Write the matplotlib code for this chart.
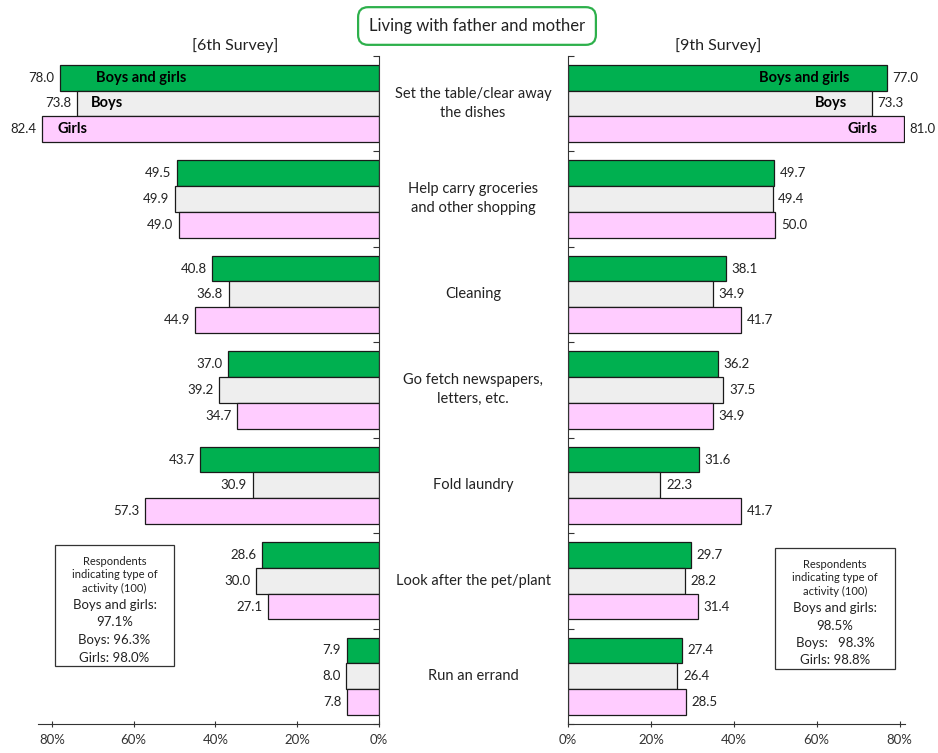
import matplotlib
matplotlib.use('Agg')
import matplotlib.pyplot as plt
from matplotlib.patches import FancyBboxPatch
from matplotlib.ticker import FuncFormatter

plt.rcParams['font.family'] = ['Lato', 'DejaVu Sans']

# --- data ---
categories = [
    "Set the table/clear away\nthe dishes",
    "Help carry groceries\nand other shopping",
    "Cleaning",
    "Go fetch newspapers,\nletters, etc.",
    "Fold laundry",
    "Look after the pet/plant",
    "Run an errand",
]
series_names = ["Boys and girls", "Boys", "Girls"]

survey6_all = [78.0, 49.5, 40.8, 37.0, 43.7, 28.6, 7.9]
survey6_boys = [73.8, 49.9, 36.8, 39.2, 30.9, 30.0, 8.0]
survey6_girls = [82.4, 49.0, 44.9, 34.7, 57.3, 27.1, 7.8]

survey9_all = [77.0, 49.7, 38.1, 36.2, 31.6, 29.7, 27.4]
survey9_boys = [73.3, 49.4, 34.9, 37.5, 22.3, 28.2, 26.4]
survey9_girls = [81.0, 50.0, 41.7, 34.9, 41.7, 31.4, 28.5]

note6 = ["Boys and girls:", "97.1%", "Boys: 96.3%", "Girls: 98.0%"]
note9 = ["Boys and girls:", "98.5%", "Boys:   98.3%", "Girls: 98.8%"]

colors = ['#00B050', '#EEEEEE', '#FFCCFF']
BAR_H = 0.27

# axes geometry in pixels (figure is 938 x 753)
AX_TOP = 55.7
AX_BOT = 724


def draw_side(ax, series, flip):
    n = len(categories)
    for k, (vals, col) in enumerate(zip(series, colors)):
        ys = [i + 0.5 + (k - 1) * BAR_H for i in range(n)]
        ax.barh(ys, vals, height=BAR_H, color=col, edgecolor='#1a1a1a', linewidth=0.9)
        for y, v in zip(ys, vals):
            if flip:
                ax.annotate(f"{v:.1f}", (v, y), xytext=(-4, 0), textcoords='offset points',
                            ha='right', va='center', fontsize=9.5, color='#222222')
            else:
                ax.annotate(f"{v:.1f}", (v, y), xytext=(4, 0), textcoords='offset points',
                            ha='left', va='center', fontsize=9.5, color='#222222')
        # series name inside the first bar
        y0 = 0.5 + (k - 1) * BAR_H
        v0 = vals[0]
        if flip:
            off = [26, 10, 11][k]
            ax.annotate(series_names[k], (v0, y0), xytext=(off, 0), textcoords='offset points',
                        ha='left', va='center', fontsize=10.5, fontweight='bold')
        else:
            off = [27, 18, 19][k]
            ax.annotate(series_names[k], (v0, y0), xytext=(-off, 0), textcoords='offset points',
                        ha='right', va='center', fontsize=10.5, fontweight='bold')

    ax.set_ylim(n, 0)
    ax.set_yticks(range(n + 1))
    ax.set_yticklabels([])
    ax.set_xticks([0, 20, 40, 60, 80])
    ax.xaxis.set_major_formatter(FuncFormatter(lambda x, p: f"{x:.0f}%"))
    ax.tick_params(axis='x', direction='inout', length=5, labelsize=9.5, pad=5, colors='#333333')
    ax.tick_params(axis='y', direction='in', length=4, colors='#333333')
    ax.spines['top'].set_visible(False)
    if flip:
        ax.set_xlim(83.4, 0)
        ax.spines['left'].set_visible(False)
        ax.yaxis.tick_right()
    else:
        ax.set_xlim(0, 81.3)
        ax.spines['right'].set_visible(False)
    for s in ['bottom', 'left', 'right']:
        ax.spines[s].set_color('#333333')


fig = plt.figure(figsize=(9.38, 7.53), dpi=100)
fig.patch.set_facecolor('white')

ax_h = AX_BOT - AX_TOP
ax_l = fig.add_axes([38 / 938, (753 - AX_BOT) / 753, 341 / 938, ax_h / 753])
ax_r = fig.add_axes([568 / 938, (753 - AX_BOT) / 753, 337 / 938, ax_h / 753])

draw_side(ax_l, [survey6_all, survey6_boys, survey6_girls], flip=True)
draw_side(ax_r, [survey9_all, survey9_boys, survey9_girls], flip=False)

# category labels in the middle
for i, cat in enumerate(categories):
    y_fig = (753 - (AX_TOP + (i + 0.5) * ax_h / 7)) / 753
    fig.text(473 / 938, y_fig, cat, ha='center', va='center', fontsize=10.5,
             color='#222222', linespacing=1.45)

# title box
fig.text(477 / 938, 727 / 753, "Living with father and mother", ha='center', va='center',
         fontsize=12, color='#222222',
         bbox=dict(boxstyle='round,pad=0.65,rounding_size=0.6', fc='white', ec='#2DB04B', lw=1.6))

fig.text(235 / 938, 707 / 753, "[6th Survey]", ha='center', va='center', fontsize=11.5, color='#222222')
fig.text(718 / 938, 707 / 753, "[9th Survey]", ha='center', va='center', fontsize=11.5, color='#222222')


def note_box(x0, y0, w, h, lines):
    box = FancyBboxPatch((x0 / 938, (753 - y0 - h) / 753), w / 938, h / 753,
                         boxstyle='square,pad=0', transform=fig.transFigure,
                         fc='white', ec='#333333', lw=0.9)
    fig.patches.append(box)
    cx = (x0 + w / 2) / 938
    fig.text(cx, (753 - y0 - 30) / 753, "Respondents\nindicating type of\nactivity (100)",
             ha='center', va='center', fontsize=8, color='#222222', linespacing=1.3)
    ytop = y0 + 60
    for j, ln in enumerate(lines):
        fig.text(cx, (753 - ytop - j * 17.5) / 753, ln, ha='center', va='center',
                 fontsize=9.5, color='#222222')


note_box(55, 545, 119, 121, note6)
note_box(775, 548, 120, 121, note9)

fig.savefig('out.png', dpi=100, facecolor='white')
plt.close(fig)
